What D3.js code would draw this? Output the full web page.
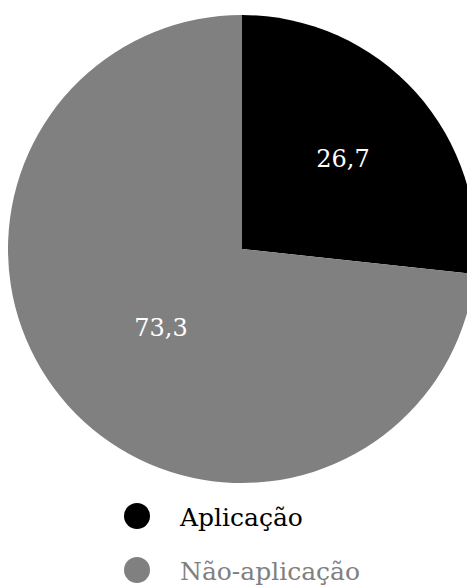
<!DOCTYPE html>
<html>
<head>
<meta charset="utf-8">
<script src="https://cdn.jsdelivr.net/npm/d3@7"></script>
<style>
  body { margin: 0; background: #fff; }
</style>
</head>
<body>
<div id="chart"></div>
<script>
// data
var categories = ["Aplicação", "Não-aplicação"];
var values = [26.7, 73.3];
var valueLabels = ["26,7", "73,3"];
var colors = ["#000000", "#808080"];

var svgWidth = 467;
var svgHeight = 585;
var serif = "'DejaVu Serif', serif";

var cx = 242, cy = 249, radius = 234;

var svg = d3.select("#chart")
  .append("svg")
  .attr("width", svgWidth)
  .attr("height", svgHeight);

var pieGroup = svg.append("g")
  .attr("transform", `translate(${cx}, ${cy})`);

var pie = d3.pie().sort(null).value(d => d);
var arcs = pie(values);

var arc = d3.arc().innerRadius(0).outerRadius(radius);

pieGroup.selectAll("path")
  .data(arcs)
  .enter()
  .append("path")
  .attr("d", arc)
  .attr("fill", (d, i) => colors[i]);

// label radius per slice (fraction of radius)
var labelRadius = [0.58, 0.5];

pieGroup.selectAll(".val")
  .data(arcs)
  .enter()
  .append("text")
  .attr("class", "val")
  .attr("transform", function (d, i) {
    var a = d3.arc().innerRadius(radius * labelRadius[i]).outerRadius(radius * labelRadius[i]);
    var c = a.centroid(d);
    return `translate(${c[0]}, ${c[1]})`;
  })
  .attr("text-anchor", "middle")
  .attr("dx", (d, i) => i === 1 ? 6 : 0)
  .attr("dy", "0.35em")
  .attr("fill", "#fff")
  .attr("font-family", serif)
  .style("font-size", "24px")
  .text((d, i) => valueLabels[i]);

// legend
var legend = svg.append("g")
  .attr("transform", "translate(137, 516)");

var items = legend.selectAll("g")
  .data(categories)
  .enter()
  .append("g")
  .attr("transform", (d, i) => `translate(0, ${i * 54})`);

items.append("circle")
  .attr("r", 13)
  .attr("fill", (d, i) => colors[i]);

items.append("text")
  .attr("x", 43)
  .attr("y", 10)
  .attr("fill", (d, i) => colors[i])
  .attr("font-family", serif)
  .style("font-size", "25px")
  .text(d => d);
</script>
</body>
</html>
